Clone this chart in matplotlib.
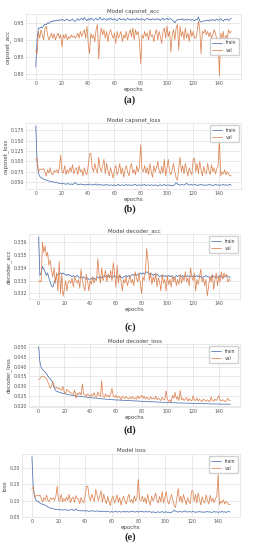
import matplotlib
matplotlib.use("Agg")
import matplotlib.pyplot as plt
import seaborn as sns

# ---- data (epochs 0..149) ----
acc_train = [
    0.822, 0.900, 0.935, 0.934, 0.938, 0.935, 0.942, 0.946, 0.944, 0.950,
    0.948, 0.952, 0.955, 0.953, 0.957, 0.955, 0.958, 0.956, 0.959, 0.957,
    0.960, 0.958, 0.956, 0.959, 0.961, 0.957, 0.955, 0.958, 0.961, 0.956,
    0.954, 0.958, 0.962, 0.957, 0.960, 0.963, 0.958, 0.965, 0.960, 0.956,
    0.962, 0.958, 0.964, 0.960, 0.957, 0.961, 0.963, 0.958, 0.960, 0.966,
    0.961, 0.958, 0.963, 0.960, 0.957, 0.962, 0.959, 0.964, 0.960, 0.958,
    0.962, 0.959, 0.956, 0.961, 0.963, 0.958, 0.960, 0.962, 0.957, 0.960,
    0.963, 0.959, 0.961, 0.957, 0.962, 0.960, 0.958, 0.963, 0.959, 0.961,
    0.958, 0.962, 0.960, 0.957, 0.961, 0.963, 0.959, 0.961, 0.958, 0.962,
    0.960, 0.958, 0.962, 0.959, 0.961, 0.957, 0.960, 0.963, 0.958, 0.961,
    0.963, 0.959, 0.961, 0.962, 0.958, 0.955, 0.950, 0.956, 0.960, 0.958,
    0.961, 0.959, 0.962, 0.957, 0.960, 0.958, 0.961, 0.959, 0.957, 0.960,
    0.958, 0.956, 0.960, 0.958, 0.967, 0.955, 0.952, 0.954, 0.955, 0.957,
    0.956, 0.958, 0.955, 0.959, 0.957, 0.960, 0.956, 0.958, 0.961, 0.957,
    0.959, 0.962, 0.958, 0.955, 0.960, 0.958, 0.961, 0.957, 0.960, 0.963,
]
acc_val = [
    0.870, 0.860, 0.925, 0.905, 0.930, 0.915, 0.900, 0.935, 0.940, 0.915,
    0.900, 0.910, 0.920, 0.905, 0.918, 0.900, 0.912, 0.920, 0.905, 0.915,
    0.880, 0.915, 0.905, 0.918, 0.900, 0.910, 0.905, 0.915, 0.908, 0.912,
    0.905, 0.910, 0.920, 0.905, 0.925, 0.910, 0.920, 0.930, 0.905, 0.940,
    0.890, 0.860, 0.920, 0.905, 0.915, 0.895, 0.930, 0.945, 0.845, 0.910,
    0.935, 0.915, 0.930, 0.905, 0.925, 0.895, 0.920, 0.930, 0.915, 0.905,
    0.920, 0.890, 0.925, 0.905, 0.915, 0.925, 0.895, 0.915, 0.905, 0.925,
    0.900, 0.918, 0.930, 0.910, 0.935, 0.900, 0.930, 0.915, 0.925, 0.900,
    0.830, 0.915, 0.905, 0.925, 0.910, 0.920, 0.900, 0.930, 0.910, 0.915,
    0.895, 0.920, 0.930, 0.900, 0.925, 0.910, 0.890, 0.925, 0.935, 0.905,
    0.940, 0.910, 0.925, 0.865, 0.915, 0.930, 0.900, 0.935, 0.945, 0.870,
    0.940, 0.910, 0.925, 0.900, 0.935, 0.905, 0.920, 0.895, 0.930, 0.910,
    0.925, 0.905, 0.905, 0.925, 0.955, 0.930, 0.860, 0.925, 0.920, 0.930,
    0.915, 0.925, 0.910, 0.922, 0.905, 0.915, 0.930, 0.920, 0.900, 0.900,
    0.795, 0.920, 0.905, 0.925, 0.880, 0.915, 0.905, 0.930, 0.920, 0.925,
]

closs_train = [
    0.185, 0.100, 0.072, 0.064, 0.061, 0.060, 0.057, 0.056, 0.055, 0.054,
    0.053, 0.052, 0.052, 0.051, 0.050, 0.049, 0.050, 0.048, 0.047, 0.048,
    0.046, 0.047, 0.046, 0.045, 0.047, 0.046, 0.045, 0.046, 0.044, 0.047,
    0.049, 0.046, 0.045, 0.044, 0.046, 0.045, 0.044, 0.045, 0.043, 0.045,
    0.044, 0.046, 0.044, 0.043, 0.045, 0.044, 0.046, 0.043, 0.044, 0.045,
    0.043, 0.044, 0.042, 0.045, 0.043, 0.044, 0.042, 0.044, 0.043, 0.042,
    0.044, 0.042, 0.043, 0.045, 0.042, 0.043, 0.044, 0.042, 0.043, 0.045,
    0.042, 0.044, 0.043, 0.042, 0.044, 0.043, 0.045, 0.042, 0.043, 0.044,
    0.042, 0.044, 0.043, 0.045, 0.042, 0.043, 0.044, 0.042, 0.044, 0.043,
    0.042, 0.044, 0.043, 0.041, 0.043, 0.044, 0.042, 0.043, 0.045, 0.042,
    0.043, 0.044, 0.042, 0.043, 0.041, 0.043, 0.044, 0.049, 0.046, 0.044,
    0.043, 0.045, 0.044, 0.043, 0.045, 0.048, 0.044, 0.043, 0.045, 0.044,
    0.043, 0.045, 0.044, 0.042, 0.044, 0.043, 0.045, 0.043, 0.044, 0.042,
    0.044, 0.043, 0.045, 0.043, 0.044, 0.042, 0.043, 0.045, 0.043, 0.044,
    0.042, 0.044, 0.043, 0.045, 0.043, 0.044, 0.042, 0.044, 0.045, 0.043,
]
closs_val = [
    0.103, 0.108, 0.075, 0.080, 0.082, 0.080, 0.083, 0.075, 0.065, 0.080,
    0.072, 0.085, 0.070, 0.068, 0.078, 0.075, 0.080, 0.072, 0.085, 0.115,
    0.075, 0.072, 0.090, 0.068, 0.080, 0.072, 0.085, 0.075, 0.092, 0.070,
    0.080, 0.085, 0.068, 0.090, 0.075, 0.080, 0.065, 0.085, 0.072, 0.068,
    0.090, 0.118, 0.120, 0.085, 0.075, 0.095, 0.080, 0.072, 0.110, 0.085,
    0.075, 0.090, 0.105, 0.070, 0.095, 0.078, 0.065, 0.085, 0.072, 0.060,
    0.080, 0.090, 0.068, 0.078, 0.095, 0.070, 0.085, 0.062, 0.080, 0.090,
    0.075, 0.065, 0.085, 0.095, 0.072, 0.080, 0.068, 0.090, 0.075, 0.085,
    0.140, 0.080, 0.075, 0.090, 0.072, 0.085, 0.068, 0.095, 0.075, 0.062,
    0.090, 0.075, 0.085, 0.100, 0.078, 0.070, 0.088, 0.072, 0.105, 0.065,
    0.085, 0.105, 0.075, 0.068, 0.080, 0.095, 0.075, 0.060, 0.055, 0.085,
    0.110, 0.075, 0.090, 0.070, 0.095, 0.080, 0.065, 0.085, 0.075, 0.068,
    0.105, 0.108, 0.075, 0.095, 0.070, 0.100, 0.080, 0.065, 0.088, 0.075,
    0.070, 0.095, 0.078, 0.068, 0.092, 0.075, 0.085, 0.070, 0.082, 0.090,
    0.155, 0.065, 0.075, 0.070, 0.080, 0.068, 0.075, 0.070, 0.065, 0.066,
]

dacc_train = [
    0.3364, 0.3334, 0.3336, 0.3341, 0.3339, 0.3337, 0.3334, 0.3336, 0.3332, 0.3329,
    0.3326, 0.3325, 0.3328, 0.3331, 0.3334, 0.3335, 0.3335, 0.3336, 0.3335, 0.3336,
    0.3335, 0.3335, 0.3334, 0.3335, 0.3334, 0.3334, 0.3333, 0.3334, 0.3333, 0.3333,
    0.3334, 0.3333, 0.3332, 0.3333, 0.3332, 0.3333, 0.3332, 0.3331, 0.3332, 0.3331,
    0.3331, 0.3332, 0.3331, 0.3332, 0.3331, 0.3332, 0.3333, 0.3332, 0.3333, 0.3332,
    0.3333, 0.3334, 0.3333, 0.3334, 0.3333, 0.3334, 0.3333, 0.3332, 0.3333, 0.3334,
    0.3333, 0.3332, 0.3333, 0.3334, 0.3333, 0.3332, 0.3333, 0.3333, 0.3334, 0.3333,
    0.3334, 0.3333, 0.3334, 0.3335, 0.3334, 0.3335, 0.3334, 0.3335, 0.3335, 0.3336,
    0.3335, 0.3336, 0.3335, 0.3336, 0.3337, 0.3336, 0.3335, 0.3336, 0.3335, 0.3334,
    0.3335, 0.3334, 0.3335, 0.3334, 0.3333, 0.3334, 0.3333, 0.3334, 0.3333, 0.3334,
    0.3333, 0.3334, 0.3333, 0.3334, 0.3333, 0.3332, 0.3333, 0.3334, 0.3333, 0.3334,
    0.3334, 0.3333, 0.3334, 0.3333, 0.3334, 0.3333, 0.3334, 0.3333, 0.3333, 0.3334,
    0.3333, 0.3334, 0.3333, 0.3334, 0.3333, 0.3334, 0.3333, 0.3332, 0.3333, 0.3333,
    0.3334, 0.3333, 0.3333, 0.3332, 0.3333, 0.3334, 0.3333, 0.3333, 0.3332, 0.3333,
    0.3333, 0.3334, 0.3333, 0.3332, 0.3333, 0.3333, 0.3334, 0.3333, 0.3333, 0.3332,
]
dacc_val = [
    0.3329, 0.3330, 0.3329, 0.3360, 0.3352, 0.3357, 0.3349, 0.3352, 0.3342, 0.3346,
    0.3338, 0.3333, 0.3340, 0.3328, 0.3336, 0.3322, 0.3345, 0.3320, 0.3335, 0.3318,
    0.3323, 0.3330, 0.3322, 0.3329, 0.3330, 0.3328, 0.3332, 0.3325, 0.3333, 0.3330,
    0.3328, 0.3331, 0.3324, 0.3339, 0.3330, 0.3326, 0.3322, 0.3335, 0.3330, 0.3322,
    0.3330, 0.3327, 0.3333, 0.3328, 0.3331, 0.3330, 0.3347, 0.3335, 0.3328, 0.3340,
    0.3330, 0.3333, 0.3338, 0.3329, 0.3335, 0.3332, 0.3338, 0.3330, 0.3344, 0.3336,
    0.3325, 0.3342, 0.3328, 0.3335, 0.3330, 0.3322, 0.3331, 0.3328, 0.3333, 0.3326,
    0.3330, 0.3334, 0.3328, 0.3331, 0.3326, 0.3337, 0.3332, 0.3329, 0.3336, 0.3328,
    0.3320, 0.3333, 0.3330, 0.3338, 0.3355, 0.3345, 0.3330, 0.3336, 0.3327, 0.3333,
    0.3329, 0.3336, 0.3325, 0.3332, 0.3329, 0.3322, 0.3335, 0.3328, 0.3331, 0.3322,
    0.3334, 0.3327, 0.3331, 0.3325, 0.3334, 0.3329, 0.3333, 0.3326, 0.3331, 0.3327,
    0.3335, 0.3328, 0.3333, 0.3330, 0.3337, 0.3329, 0.3332, 0.3326, 0.3340, 0.3333,
    0.3330, 0.3336, 0.3322, 0.3331, 0.3327, 0.3333, 0.3339, 0.3329, 0.3332, 0.3326,
    0.3331, 0.3318, 0.3325, 0.3333, 0.3329, 0.3335, 0.3323, 0.3331, 0.3336, 0.3326,
    0.3334, 0.3329, 0.3337, 0.3331, 0.3336, 0.3333, 0.3335, 0.3329, 0.3331, 0.3330,
]

dloss_train = [
    0.0500, 0.0425, 0.0395, 0.0385, 0.0380, 0.0372, 0.0365, 0.0355, 0.0345, 0.0338,
    0.0330, 0.0322, 0.0295, 0.0280, 0.0275, 0.0273, 0.0270, 0.0268, 0.0266, 0.0265,
    0.0263, 0.0262, 0.0260, 0.0259, 0.0257, 0.0256, 0.0255, 0.0254, 0.0253, 0.0251,
    0.0250, 0.0250, 0.0249, 0.0248, 0.0248, 0.0247, 0.0246, 0.0246, 0.0245, 0.0244,
    0.0243, 0.0243, 0.0242, 0.0241, 0.0241, 0.0240, 0.0239, 0.0239, 0.0238, 0.0237,
    0.0236, 0.0236, 0.0235, 0.0235, 0.0234, 0.0234, 0.0233, 0.0233, 0.0232, 0.0232,
    0.0231, 0.0231, 0.0231, 0.0230, 0.0230, 0.0230, 0.0229, 0.0229, 0.0229, 0.0228,
    0.0228, 0.0228, 0.0227, 0.0227, 0.0227, 0.0226, 0.0226, 0.0226, 0.0225, 0.0225,
    0.0224, 0.0224, 0.0224, 0.0223, 0.0223, 0.0223, 0.0222, 0.0222, 0.0222, 0.0222,
    0.0221, 0.0221, 0.0221, 0.0220, 0.0220, 0.0220, 0.0220, 0.0219, 0.0219, 0.0219,
    0.0218, 0.0218, 0.0218, 0.0218, 0.0217, 0.0217, 0.0217, 0.0217, 0.0216, 0.0216,
    0.0216, 0.0216, 0.0215, 0.0215, 0.0215, 0.0215, 0.0215, 0.0214, 0.0214, 0.0214,
    0.0214, 0.0214, 0.0213, 0.0213, 0.0213, 0.0213, 0.0213, 0.0212, 0.0212, 0.0212,
    0.0212, 0.0212, 0.0212, 0.0211, 0.0211, 0.0211, 0.0211, 0.0211, 0.0211, 0.0211,
    0.0211, 0.0210, 0.0210, 0.0210, 0.0210, 0.0210, 0.0210, 0.0210, 0.0210, 0.0210,
]
dloss_val = [
    0.0335, 0.0338, 0.0348, 0.0352, 0.0350, 0.0345, 0.0338, 0.0325, 0.0310, 0.0290,
    0.0300, 0.0322, 0.0305, 0.0290, 0.0295, 0.0288, 0.0293, 0.0285, 0.0280, 0.0300,
    0.0270, 0.0265, 0.0285, 0.0278, 0.0272, 0.0268, 0.0262, 0.0260, 0.0282, 0.0240,
    0.0265, 0.0258, 0.0270, 0.0255, 0.0312, 0.0262, 0.0258, 0.0250, 0.0262, 0.0255,
    0.0248, 0.0260, 0.0252, 0.0268, 0.0250, 0.0245, 0.0272, 0.0255, 0.0248, 0.0328,
    0.0250, 0.0243, 0.0262, 0.0248, 0.0255, 0.0245, 0.0262, 0.0290, 0.0250, 0.0245,
    0.0255, 0.0242, 0.0250, 0.0245, 0.0232, 0.0250, 0.0245, 0.0238, 0.0248, 0.0240,
    0.0236, 0.0245, 0.0238, 0.0248, 0.0236, 0.0242, 0.0235, 0.0252, 0.0238, 0.0245,
    0.0255, 0.0240, 0.0250, 0.0236, 0.0245, 0.0238, 0.0233, 0.0248, 0.0236, 0.0242,
    0.0235, 0.0250, 0.0232, 0.0240, 0.0235, 0.0228, 0.0245, 0.0235, 0.0230, 0.0278,
    0.0235, 0.0225, 0.0232, 0.0220, 0.0255, 0.0240, 0.0270, 0.0235, 0.0248, 0.0228,
    0.0280, 0.0232, 0.0240, 0.0228, 0.0236, 0.0243, 0.0225, 0.0238, 0.0230, 0.0226,
    0.0252, 0.0232, 0.0228, 0.0240, 0.0225, 0.0235, 0.0228, 0.0222, 0.0236, 0.0230,
    0.0225, 0.0232, 0.0228, 0.0222, 0.0245, 0.0230, 0.0225, 0.0235, 0.0228, 0.0240,
    0.0252, 0.0230, 0.0225, 0.0232, 0.0228, 0.0222, 0.0230, 0.0240, 0.0228, 0.0230,
]

loss_train = [
    0.235, 0.142, 0.112, 0.102, 0.099, 0.097, 0.093, 0.091, 0.089, 0.088,
    0.086, 0.084, 0.081, 0.079, 0.077, 0.076, 0.076, 0.074, 0.073, 0.074,
    0.072, 0.073, 0.072, 0.071, 0.073, 0.072, 0.071, 0.072, 0.070, 0.072,
    0.074, 0.071, 0.070, 0.075, 0.071, 0.070, 0.069, 0.070, 0.068, 0.070,
    0.068, 0.070, 0.068, 0.067, 0.069, 0.068, 0.070, 0.067, 0.068, 0.069,
    0.067, 0.068, 0.066, 0.068, 0.067, 0.068, 0.066, 0.067, 0.066, 0.065,
    0.067, 0.065, 0.066, 0.068, 0.065, 0.066, 0.067, 0.065, 0.066, 0.068,
    0.065, 0.067, 0.066, 0.065, 0.067, 0.066, 0.068, 0.065, 0.066, 0.067,
    0.065, 0.067, 0.066, 0.068, 0.065, 0.066, 0.067, 0.065, 0.067, 0.066,
    0.064, 0.066, 0.065, 0.063, 0.065, 0.066, 0.064, 0.065, 0.067, 0.064,
    0.065, 0.066, 0.064, 0.065, 0.063, 0.065, 0.066, 0.071, 0.068, 0.066,
    0.065, 0.067, 0.066, 0.065, 0.067, 0.069, 0.066, 0.065, 0.067, 0.066,
    0.065, 0.067, 0.066, 0.064, 0.066, 0.065, 0.067, 0.065, 0.066, 0.064,
    0.066, 0.065, 0.067, 0.065, 0.066, 0.064, 0.065, 0.067, 0.065, 0.066,
    0.064, 0.066, 0.065, 0.067, 0.065, 0.066, 0.064, 0.066, 0.067, 0.065,
]
loss_val = [
    0.137, 0.142, 0.110, 0.115, 0.117, 0.115, 0.117, 0.108, 0.096, 0.109,
    0.102, 0.117, 0.101, 0.097, 0.108, 0.104, 0.109, 0.101, 0.113, 0.145,
    0.102, 0.099, 0.119, 0.096, 0.107, 0.099, 0.111, 0.101, 0.120, 0.094,
    0.107, 0.111, 0.095, 0.116, 0.106, 0.106, 0.091, 0.110, 0.098, 0.094,
    0.115, 0.144, 0.145, 0.112, 0.100, 0.120, 0.107, 0.098, 0.135, 0.118,
    0.100, 0.114, 0.131, 0.095, 0.121, 0.103, 0.091, 0.114, 0.097, 0.085,
    0.106, 0.114, 0.093, 0.103, 0.118, 0.095, 0.110, 0.086, 0.105, 0.114,
    0.099, 0.090, 0.109, 0.120, 0.096, 0.104, 0.092, 0.115, 0.099, 0.110,
    0.166, 0.104, 0.100, 0.114, 0.097, 0.109, 0.091, 0.120, 0.099, 0.086,
    0.114, 0.100, 0.108, 0.124, 0.102, 0.093, 0.113, 0.096, 0.128, 0.093,
    0.109, 0.128, 0.098, 0.090, 0.106, 0.119, 0.102, 0.084, 0.080, 0.108,
    0.138, 0.098, 0.114, 0.093, 0.119, 0.104, 0.088, 0.109, 0.098, 0.091,
    0.130, 0.131, 0.098, 0.119, 0.093, 0.124, 0.103, 0.087, 0.112, 0.098,
    0.093, 0.118, 0.101, 0.090, 0.117, 0.098, 0.108, 0.094, 0.105, 0.114,
    0.180, 0.088, 0.098, 0.093, 0.103, 0.090, 0.098, 0.094, 0.088, 0.089,
]

epochs = list(range(len(acc_train)))

titles = ["Model capsnet_acc", "Model capsnet_loss", "Model decoder_acc",
          "Model decoder_loss", "Model loss"]
ylabels = ["capsnet_acc", "capsnet_loss", "decoder_acc", "decoder_loss", "loss"]
captions = ["(a)", "(b)", "(c)", "(d)", "(e)"]
series = [(acc_train, acc_val), (closs_train, closs_val), (dacc_train, dacc_val),
          (dloss_train, dloss_val), (loss_train, loss_val)]
yticks = [[0.80, 0.85, 0.90, 0.95],
          [0.050, 0.075, 0.100, 0.125, 0.150, 0.175],
          [0.332, 0.333, 0.334, 0.335, 0.336],
          [0.020, 0.025, 0.030, 0.035, 0.040, 0.045, 0.050],
          [0.05, 0.10, 0.15, 0.20]]
yfmt = ["%.2f", "%.3f", "%.3f", "%.3f", "%.2f"]
legend_loc = ["center right", "upper right", "upper right", "upper right", "upper right"]

# axes boxes in pixels: left, right, top, bottom ; caption y
boxes = [(26, 241, 14, 79), (26, 241, 123, 189), (29, 240, 234, 299),
         (29, 240, 344, 407), (22, 240, 454, 517)]
cap_y = [100, 209, 327, 430, 537]

sns.set_style("whitegrid")
W, H = 260, 550
fig = plt.figure(figsize=(W / 100, H / 100), dpi=100)

for i in range(5):
    l, r, t, b = boxes[i]
    ax = fig.add_axes([l / W, 1 - b / H, (r - l) / W, (b - t) / H])
    tr, va = series[i]
    ax.plot(epochs, tr, color="#4C72B0", lw=0.55, label="train")
    ax.plot(epochs, va, color="#DD8452", lw=0.55, label="val")
    ax.set_xticks([0, 20, 40, 60, 80, 100, 120, 140])
    ax.set_yticks(yticks[i])
    ax.yaxis.set_major_formatter(matplotlib.ticker.FormatStrFormatter(yfmt[i]))
    ax.tick_params(labelsize=3.4, pad=1.5, length=0, colors="#555555")
    ax.set_title(titles[i], fontsize=4.0, pad=1.5, color="#444444")
    ax.set_xlabel("epochs", fontsize=4.0, labelpad=1, color="#444444")
    ax.set_ylabel(ylabels[i], fontsize=4.0, labelpad=1.5, color="#444444")
    ax.grid(color="#e0e0e0", lw=0.5)
    for s in ax.spines.values():
        s.set_color("#e0e0e0")
        s.set_linewidth(0.5)
    leg = ax.legend(loc=legend_loc[i], fontsize=3.3, handlelength=2.2,
                    borderpad=0.5, labelspacing=0.5, frameon=True, framealpha=0.9)
    for txt in leg.get_texts():
        txt.set_color("#444444")
    fig.text(0.5, 1 - cap_y[i] / H, captions[i], ha="center", va="center",
             fontsize=7.5, fontweight="bold", family="Liberation Serif")

fig.savefig("out.png", dpi=100)
